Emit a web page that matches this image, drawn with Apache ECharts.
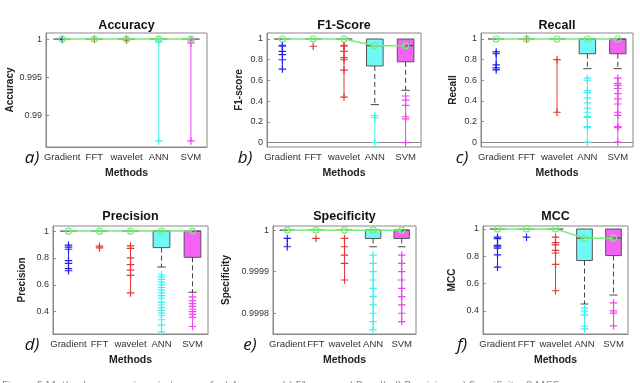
<!DOCTYPE html>
<html>
<head>
<meta charset="utf-8">
<script src="https://cdn.jsdelivr.net/npm/echarts@6.0.0/dist/echarts.min.js"></script>
<style>
  html, body { margin: 0; padding: 0; background: #fff; }
  #main { width: 640px; height: 383px; }
</style>
</head>
<body>
<div id="main"></div>
<script>
var methods = ['Gradient', 'FFT', 'wavelet', 'ANN', 'SVM'];

// box stats per method: [lower whisker, q1, median, q3]
var accuracyBox = [[1, 1, 1, 1], [1, 1, 1, 1], [1, 1, 1, 1], [0.99995, 0.99995, 1, 1], [0.99995, 0.99995, 1, 1]];
var f1Box = [[1, 1, 1, 1], [1, 1, 1, 1], [1, 1, 1, 1], [0.367, 0.74, 0.936, 1], [0.505, 0.78, 0.936, 1]];
var recallBox = [[1, 1, 1, 1], [1, 1, 1, 1], [1, 1, 1, 1], [0.712, 0.857, 1, 1], [0.712, 0.857, 1, 1]];
var precisionBox = [[1, 1, 1, 1], [1, 1, 1, 1], [1, 1, 1, 1], [0.733, 0.877, 1, 1], [0.545, 0.805, 1, 1]];
var specificityBox = [[1, 1, 1, 1], [1, 1, 1, 1], [1, 1, 1, 1], [0.99996, 0.99998, 1, 1], [0.99996, 0.99998, 1, 1]];
var mccBox = [[1, 1, 1, 1], [1, 1, 1, 1], [1, 1, 1, 1], [0.45, 0.769, 0.933, 1], [0.516, 0.805, 0.933, 1]];

// outliers per method
var accuracyOut = [[0.99996], [0.99997], [0.99993, 0.99988], [0.9999, 0.9996, 0.9866], [0.9999, 0.9995, 0.9866]];
var f1Out = [[0.94, 0.93, 0.88, 0.85, 0.8, 0.71], [0.93], [0.94, 0.93, 0.88, 0.82, 0.8, 0.7, 0.44],
  [0.26, 0.24, 0], [0.45, 0.41, 0.36, 0.25, 0.23, 0]];
var recallOut = [[0.875, 0.857, 0.75, 0.72, 0.7], [1], [0.8, 0.29],
  [0.62, 0.6, 0.5, 0.48, 0.43, 0.38, 0.33, 0.29, 0.25, 0.24, 0.15, 0.14, 0],
  [0.62, 0.57, 0.55, 0.52, 0.47, 0.42, 0.37, 0.29, 0.26, 0.15, 0.14, 0]];
var precisionOut = [[0.895, 0.88, 0.865, 0.78, 0.76, 0.72, 0.705], [0.888, 0.875],
  [0.89, 0.872, 0.8, 0.75, 0.71, 0.67, 0.54],
  [0.675, 0.66, 0.64, 0.62, 0.6, 0.58, 0.56, 0.54, 0.52, 0.5, 0.47, 0.45, 0.43, 0.41, 0.39, 0.37, 0.34, 0.3, 0.25],
  [0.51, 0.48, 0.46, 0.44, 0.42, 0.4, 0.38, 0.36, 0.29]];
var specificityOut = [[0.99998, 0.99996], [0.99998], [0.99998, 0.99996, 0.99994, 0.99992, 0.99988],
  [0.99994, 0.99992, 0.9999, 0.99988, 0.99986, 0.99984, 0.99982, 0.9998, 0.99978, 0.99976],
  [0.99994, 0.99992, 0.9999, 0.99988, 0.99986, 0.99984, 0.99982, 0.9998, 0.99978]];
var mccOut = [[0.94, 0.93, 0.88, 0.87, 0.86, 0.81, 0.72], [0.94], [0.94, 0.9, 0.884, 0.843, 0.824, 0.74, 0.547],
  [0.42, 0.4, 0.37, 0.287, 0.267], [0.458, 0.4, 0.383, 0.29]];

// tick labels
var accuracyTicks = [0.99, 0.995, 1];
var unitTicks = [0, 0.2, 0.4, 0.6, 0.8, 1];
var upperTicks = [0.4, 0.6, 0.8, 1];
var specificityTicks = [0.9998, 0.9999, 1];

var caption = 'Figure 5 Methods comparison in terms of: a) Accuracy, b) F1-score, c) Recall, d) Precision, e) Specificity, f) MCC';

// colours
var outColors = ['#2323e8', '#e23a3a', '#e23a3a', '#45eeee', '#ee45ee'];
var mccOutColors = ['#2323e8', '#2323e8', '#e23a3a', '#45eeee', '#ee45ee'];
var boxFills = [null, null, null, '#6ef8f8', '#f462f4'];
var green = '#74ee74';
var plusSymbol = 'path://M0,4.2H10V5.8H0ZM4.2,0H5.8V10H4.2Z';
var font = '"Liberation Sans", Arial, sans-serif';

// layout of the six panels
var panels = [
  { title: 'Accuracy', yName: 'Accuracy', letter: 'a)', box: accuracyBox, out: accuracyOut, ticks: accuracyTicks,
    min: 0.9858, max: 1.0008, grid: [46, 33, 161, 114], nameGap: 31, colors: outColors, letterX: 32, titleOff: 7 },
  { title: 'F1-Score', yName: 'F1-score', letter: 'b)', box: f1Box, out: f1Out, ticks: unitTicks,
    min: -0.042, max: 1.058, grid: [267, 33, 154, 114], nameGap: 23, colors: outColors, letterX: 245, titleOff: 7 },
  { title: 'Recall', yName: 'Recall', letter: 'c)', box: recallBox, out: recallOut, ticks: unitTicks,
    min: -0.047, max: 1.058, grid: [481, 33, 152, 114], nameGap: 23, colors: outColors, letterX: 462, titleOff: 7 },
  { title: 'Precision', yName: 'Precision', letter: 'd)', box: precisionBox, out: precisionOut, ticks: upperTicks,
    min: 0.234, max: 1.038, grid: [53, 226, 155, 108], nameGap: 26, colors: outColors, letterX: 32, titleOff: 9 },
  { title: 'Specificity', yName: 'Specificity', letter: 'e)', box: specificityBox, out: specificityOut, ticks: specificityTicks,
    min: 0.99975, max: 1.00001, grid: [273, 226, 143, 108], nameGap: 42, colors: outColors, letterX: 250, titleOff: 9 },
  { title: 'MCC', yName: 'MCC', letter: 'f)', box: mccBox, out: mccOut, ticks: upperTicks,
    min: 0.23, max: 1.022, grid: [483, 226, 145, 108], nameGap: 26, colors: mccOutColors, letterX: 462, titleOff: 9 }
];

function renderBox(params, api) {
  var i = api.value(0);
  var low = api.coord([i, api.value(1)]);
  var q1 = api.coord([i, api.value(2)]);
  var med = api.coord([i, api.value(3)]);
  var q3 = api.coord([i, api.value(4)]);
  var half = api.size([1, 0])[0] * 0.27;
  var kids = [];
  if (q1[1] - q3[1] > 0.5) {
    kids.push({ type: 'rect', shape: { x: q3[0] - half, y: q3[1], width: half * 2, height: q1[1] - q3[1] },
      style: { fill: boxFills[i] || '#fff', stroke: '#555', lineWidth: 1 } });
  }
  if (low[1] - q1[1] > 0.5) {
    kids.push({ type: 'line', shape: { x1: q1[0], y1: q1[1], x2: low[0], y2: low[1] },
      style: { stroke: '#444', lineWidth: 1, lineDash: [5, 3] } });
    kids.push({ type: 'line', shape: { x1: low[0] - half / 2, y1: low[1], x2: low[0] + half / 2, y2: low[1] },
      style: { stroke: '#444', lineWidth: 1 } });
  }
  kids.push({ type: 'line', shape: { x1: med[0] - half, y1: med[1], x2: med[0] + half, y2: med[1] },
    style: { stroke: '#555', lineWidth: 1.3 } });
  return { type: 'group', children: kids };
}

function fmt(v) { return String(+(+v).toFixed(5)); }

var grids = [], xAxes = [], yAxes = [], series = [], graphics = [];

panels.forEach(function (p, k) {
  var g = p.grid;
  var cx = g[0] + g[2] / 2;
  grids.push({ left: g[0], top: g[1], width: g[2], height: g[3], show: true,
    borderColor: '#888', borderWidth: 1, backgroundColor: 'transparent' });
  xAxes.push({
    type: 'category', gridIndex: k, data: methods,
    name: 'Methods', nameLocation: 'middle', nameGap: 21,
    nameTextStyle: { fontFamily: font, fontWeight: 'bold', fontSize: 10.5, color: '#222' },
    axisLine: { lineStyle: { color: '#888' } },
    axisTick: { inside: true, alignWithLabel: true, length: 3, lineStyle: { color: '#888' } },
    axisLabel: { interval: 0, margin: 5, fontFamily: font, fontSize: 9.5, color: '#333' },
    splitLine: { show: false }
  });
  yAxes.push({
    type: 'value', gridIndex: k, min: p.min, max: p.max,
    name: p.yName, nameLocation: 'middle', nameGap: p.nameGap,
    nameTextStyle: { fontFamily: font, fontWeight: 'bold', fontSize: 10, color: '#222' },
    axisLine: { show: true, lineStyle: { color: '#888' } },
    axisTick: { show: true, inside: true, length: 3, customValues: p.ticks, lineStyle: { color: '#888' } },
    axisLabel: { customValues: p.ticks, formatter: fmt, margin: 4, fontFamily: font, fontSize: 9, color: '#333' },
    splitLine: { show: false }
  });

  series.push({
    type: 'custom', xAxisIndex: k, yAxisIndex: k, renderItem: renderBox, z: 2, silent: true,
    encode: { x: 0, y: [1, 2, 3, 4] },
    data: p.box.map(function (b, i) { return [i, b[0], b[1], b[2], b[3]]; })
  });

  p.out.forEach(function (vals, i) {
    series.push({
      type: 'line', xAxisIndex: k, yAxisIndex: k, z: 3, silent: true,
      data: vals.map(function (v) { return [i, v]; }),
      symbol: plusSymbol, symbolSize: 7.5, showSymbol: true,
      lineStyle: { color: p.colors[i], width: 1 },
      itemStyle: { color: p.colors[i] },
      animation: false
    });
  });

  series.push({
    type: 'line', xAxisIndex: k, yAxisIndex: k, z: 4, silent: true,
    data: p.box.map(function (b) { return b[2]; }),
    symbol: 'circle', symbolSize: 6,
    lineStyle: { color: green, width: 1.5 },
    itemStyle: { color: 'rgba(0,0,0,0)', borderColor: green, borderWidth: 1.2 },
    animation: false
  });

  graphics.push({ type: 'text', silent: true,
    style: { text: p.title, x: cx, y: g[1] - p.titleOff, textAlign: 'center', textVerticalAlign: 'middle',
      font: 'bold 12.5px ' + font, fill: '#111' } });
  graphics.push({ type: 'text', silent: true,
    style: { text: p.letter, x: p.letterX, y: g[1] + g[3] + 11, textAlign: 'center', textVerticalAlign: 'middle',
      font: 'italic 17px "Open Sans", sans-serif', fill: '#111' } });
});

graphics.push({ type: 'text', silent: true,
  style: { text: caption, x: 2, y: 380, textVerticalAlign: 'top', font: '11px "Open Sans", sans-serif', fill: '#888' } });

var chart = echarts.init(document.getElementById('main'));
chart.setOption({
  animation: false,
  backgroundColor: '#fff',
  grid: grids,
  xAxis: xAxes,
  yAxis: yAxes,
  series: series,
  graphic: graphics
});
</script>
</body>
</html>
